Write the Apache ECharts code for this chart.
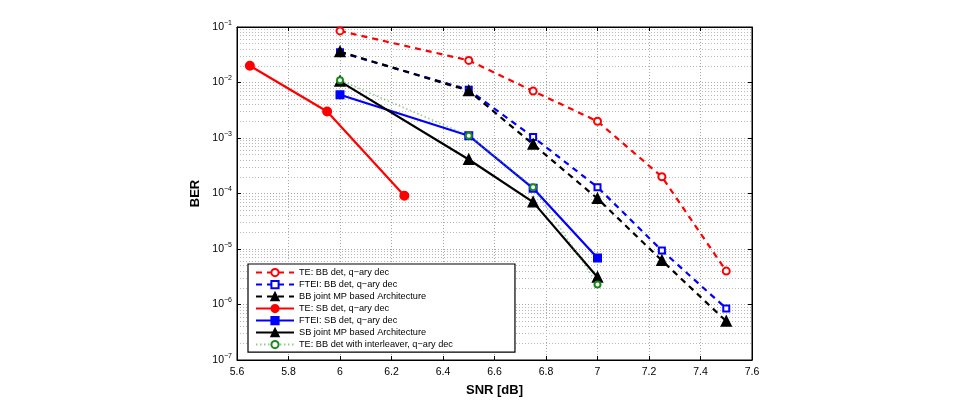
<!DOCTYPE html>
<html>
<head>
<meta charset="utf-8">
<script src="https://cdn.jsdelivr.net/npm/echarts@6/dist/echarts.min.js"></script>
<style>
  html, body { margin: 0; padding: 0; background: #fff; }
  #chart { width: 958px; height: 402px; }
</style>
</head>
<body>
<div id="chart"></div>
<script>
// SNR points (dB)
var snrBB = [6, 6.5, 6.75, 7, 7.25, 7.5];
var snrTeSB = [5.65, 5.95, 6.25];
var snrSB = [6, 6.5, 6.75, 7];

// BER values
var berTeBB = [0.085, 0.025, 0.007, 0.002, 2.0e-4, 4.0e-6];
var berFteiBB = [0.035, 0.0074, 0.00104, 1.3e-4, 9.4e-6, 8.5e-7];
var berJointBB = [0.036, 0.0071, 7.7e-4, 8.1e-5, 6.2e-6, 5.0e-7];
var berTeSB = [0.02, 0.003, 9.1e-5];
var berFteiSB = [0.006, 0.0011, 1.24e-4, 6.9e-6];
var berJointSB = [0.0105, 4.1e-4, 7.0e-5, 3.1e-6];
var berTeIlv = [0.011, 0.0011, 1.3e-4, 2.3e-6];

var names = [
    'TE: BB det, q\u2212ary dec',
    'FTEI: BB det, q\u2212ary dec',
    'BB joint MP based Architecture',
    'TE: SB det, q\u2212ary dec',
    'FTEI: SB det, q\u2212ary dec',
    'SB joint MP based Architecture',
    'TE: BB det with interleaver, q\u2212ary dec'
];

var xMin = 5.6, xMax = 7.6;
var decades = [-7, -6, -5, -4, -3, -2, -1];

var font = 'Liberation Sans, Arial, Helvetica, sans-serif';

function pairs(xs, ys) {
    return xs.map(function (x, i) { return [x, ys[i]]; });
}

// minor log grid lines (2..9 x 10^n), drawn as plain segments
var minorLines = [];
decades.slice(0, -1).forEach(function (e) {
    for (var m = 2; m <= 9; m++) {
        var v = m * Math.pow(10, e);
        minorLines.push({ coords: [[xMin, v], [xMax, v]] });
    }
});

var mkSeries = function (name, xs, ys, color, type, symbol, size, width) {
    return {
        name: name,
        type: 'line',
        data: pairs(xs, ys),
        symbol: symbol,
        symbolSize: size,
        lineStyle: { color: color, width: width, type: type },
        itemStyle: { color: color, borderColor: color, borderWidth: 2 },
        emphasis: { disabled: true },
        animation: false
    };
};

var series = [
    {
        type: 'lines',
        coordinateSystem: 'cartesian2d',
        silent: true,
        z: 0,
        animation: false,
        lineStyle: { color: '#b8b8b8', type: [1, 2], width: 1, opacity: 1 },
        data: minorLines
    },
    mkSeries(names[0], snrBB, berTeBB, '#ff0000', [6, 5], 'emptyCircle', 7, 2.2),
    mkSeries(names[1], snrBB, berFteiBB, '#0000ff', [6, 5], 'emptyRect', 6, 2.2),
    mkSeries(names[2], snrBB, berJointBB, '#000000', [6, 5], 'triangle', 9, 2.2),
    mkSeries(names[3], snrTeSB, berTeSB, '#ff0000', 'solid', 'circle', 8, 2.2),
    mkSeries(names[4], snrSB, berFteiSB, '#0000ff', 'solid', 'rect', 7, 2.2),
    mkSeries(names[5], snrSB, berJointSB, '#000000', 'solid', 'triangle', 9, 2.2),
    mkSeries(names[6], snrSB, berTeIlv, '#1a8a1a', [1.5, 2.5], 'emptyCircle', 6, 1.5)
];
series[7].lineStyle.color = 'rgba(60,160,60,0.55)';

var supLabel = function (v) {
    var e = Math.round(Math.log10(v));
    return '{b|10}{s|' + (e < 0 ? '\u2212' : '') + Math.abs(e) + '}';
};

var option = {
    animation: false,
    backgroundColor: '#fff',
    textStyle: { fontFamily: font },
    grid: {
        left: 237, right: 206, top: 27, bottom: 40,
        show: true, borderColor: '#000', borderWidth: 1
    },
    legend: {
        orient: 'vertical',
        left: 248, top: 264,
        data: names,
        itemWidth: 38,
        itemHeight: 9,
        itemGap: 2.8,
        padding: [4, 62, 3, 7],
        backgroundColor: '#fff',
        borderColor: '#000',
        borderWidth: 1.2,
        borderRadius: 0,
        textStyle: { fontFamily: font, fontSize: 9.2, color: '#000' }
    },
    xAxis: [{
        type: 'value',
        min: xMin, max: xMax, interval: 0.2,
        name: 'SNR [dB]',
        nameLocation: 'middle',
        nameGap: 24,
        nameTextStyle: { fontFamily: font, fontSize: 13, fontWeight: 'bold', color: '#000' },
        axisLine: { lineStyle: { color: '#000' } },
        axisTick: { inside: true, length: 4, lineStyle: { color: '#000' } },
        axisLabel: { fontFamily: font, fontSize: 10.5, color: '#000', margin: 7 },
        splitLine: { show: true, lineStyle: { color: '#a8a8a8', type: [1, 2] } }
    }, {
        type: 'value',
        position: 'top',
        min: xMin, max: xMax, interval: 0.2,
        axisLine: { lineStyle: { color: '#000' } },
        axisTick: { inside: true, length: 4, lineStyle: { color: '#000' } },
        axisLabel: { show: false },
        splitLine: { show: false }
    }],
    yAxis: [{
        type: 'log',
        logBase: 10,
        min: 1e-7, max: 1e-1,
        splitNumber: 6,
        name: 'BER',
        nameLocation: 'middle',
        nameGap: 31,
        nameTextStyle: { fontFamily: font, fontSize: 13, fontWeight: 'bold', color: '#000' },
        axisLine: { lineStyle: { color: '#000' } },
        axisTick: { inside: true, length: 4, lineStyle: { color: '#000' } },
        axisLabel: {
            formatter: supLabel,
            margin: 5,
            rich: {
                b: { fontFamily: font, fontSize: 10.5, color: '#000' },
                s: { fontFamily: font, fontSize: 7, color: '#000', padding: [0, 0, 8, 0] }
            }
        },
        splitLine: { show: true, lineStyle: { color: '#a8a8a8', type: [1, 2] } }
    }, {
        type: 'log',
        logBase: 10,
        position: 'right',
        min: 1e-7, max: 1e-1,
        splitNumber: 6,
        axisLine: { lineStyle: { color: '#000' } },
        axisTick: { inside: true, length: 4, lineStyle: { color: '#000' } },
        axisLabel: { show: false },
        splitLine: { show: false }
    }],
    series: series
};

var chart = echarts.init(document.getElementById('chart'));
chart.setOption(option);
</script>
</body>
</html>
